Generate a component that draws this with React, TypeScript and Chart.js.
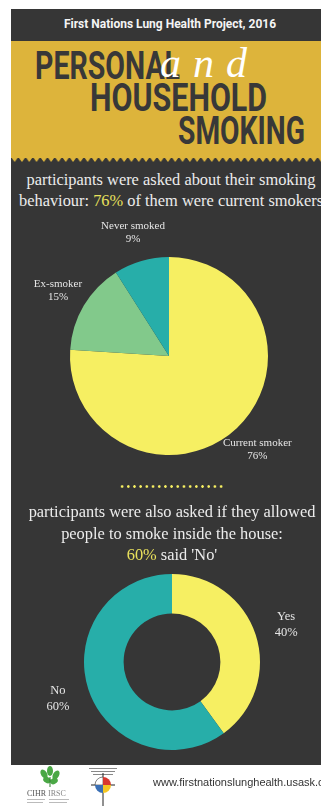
import React, { useEffect, useLayoutEffect, useRef } from "react";
import { Chart, registerables } from "chart.js";
Chart.register(...registerables);

// ---- data ----
const smokingCategories = ["Current smoker", "Ex-smoker", "Never smoked"];
const smokingValues = [76, 15, 9];
const householdCategories = ["Yes", "No"];
const householdValues = [40, 60];

// ---- styles ----
const DARK = "#363636";
const GOLD = "#DDB43B";
const YELLOW = "#F6EF62";
const TEAL = "#27AEA9";
const GREEN = "#82C98B";
const smokingColors = [YELLOW, GREEN, TEAL];
const householdColors = [YELLOW, TEAL];

const outerLabelPlugin = {
  id: "outerLabels",
  afterDatasetsDraw(chart: any, _args: any, opts: any) {
    const ctx = chart.ctx;
    const meta = chart.getDatasetMeta(0);
    const data = chart.data.datasets[0].data;
    const labels = chart.data.labels;
    ctx.save();
    ctx.fillStyle = opts.color;
    ctx.font = opts.font;
    ctx.textAlign = "center";
    ctx.textBaseline = "middle";
    meta.data.forEach((arc: any, i: number) => {
      const p = arc.getProps(["x", "y", "startAngle", "endAngle", "outerRadius"], true);
      const mid = (p.startAngle + p.endAngle) / 2;
      const d = p.outerRadius + opts.offset;
      const cx = p.x + Math.cos(mid) * d;
      const cy = p.y + Math.sin(mid) * d;
      ctx.fillText(String(labels[i]), cx, cy - opts.lineGap / 2);
      ctx.fillText(data[i] + "%", cx, cy + opts.lineGap / 2);
    });
    ctx.restore();
  },
};

function PieChart(props: {
  type: "pie" | "doughnut";
  labels: string[];
  values: number[];
  colors: string[];
  width: number;
  height: number;
  padding: { top: number; bottom: number; left: number; right: number };
  cutout?: string;
  labelFont: string;
  labelOffset: number;
  lineGap: number;
}) {
  const ref = useRef<HTMLCanvasElement>(null);
  useEffect(() => {
    if (!ref.current) return;
    const chart = new Chart(ref.current, {
      type: props.type,
      data: {
        labels: props.labels,
        datasets: [
          {
            data: props.values,
            backgroundColor: props.colors,
            borderWidth: 0,
            hoverOffset: 0,
          },
        ],
      },
      options: {
        responsive: false,
        animation: false,
        cutout: props.cutout ?? 0,
        layout: { padding: props.padding },
        plugins: {
          legend: { display: false },
          tooltip: { enabled: false },
          outerLabels: {
            color: "#e6e6e6",
            font: props.labelFont,
            offset: props.labelOffset,
            lineGap: props.lineGap,
          },
        } as any,
      } as any,
      plugins: [outerLabelPlugin],
    });
    return () => chart.destroy();
  }, []);
  return (
    <canvas
      ref={ref}
      width={props.width}
      height={props.height}
      style={{ width: props.width, height: props.height, display: "block" }}
    />
  );
}

function FitText(props: { text: string; width: number; style: React.CSSProperties }) {
  const ref = useRef<HTMLSpanElement>(null);
  useLayoutEffect(() => {
    const el = ref.current;
    if (!el) return;
    const w = el.offsetWidth;
    if (w > 0) el.style.transform = `scaleX(${props.width / w})`;
  }, []);
  return (
    <span
      ref={ref}
      style={{
        position: "absolute",
        display: "inline-block",
        whiteSpace: "nowrap",
        transformOrigin: "left top",
        ...props.style,
      }}
    >
      {props.text}
    </span>
  );
}

const titleFont: React.CSSProperties = {
  fontFamily: "Roboto, 'DejaVu Sans', sans-serif",
  fontWeight: 700,
  fontSize: 38,
  lineHeight: "38px",
  color: "#383838",
};

const serifText: React.CSSProperties = {
  position: "absolute",
  fontFamily: "'Liberation Serif', 'Times New Roman', serif",
  fontSize: 16.4,
  lineHeight: "21px",
  color: "#ececec",
  whiteSpace: "nowrap",
  transform: "translateX(-50%)",
};

export default function App() {
  return (
    <div
      style={{
        position: "relative",
        width: 321,
        height: 806,
        overflow: "hidden",
        background: "#ffffff",
      }}
    >
      <style>{`body{margin:0}`}</style>
      {/* dark panel */}
      <div style={{ position: "absolute", left: 11, top: 9, width: 320, height: 756, background: DARK }} />
      {/* header bar */}
      <div
        style={{
          position: "absolute",
          left: 170,
          top: 18,
          transform: "translateX(-50%)",
          whiteSpace: "nowrap",
          fontFamily: "Roboto, 'Open Sans', sans-serif",
          fontWeight: 700,
          fontSize: 12,
          lineHeight: "12px",
          color: "#f4f4f4",
        }}
      >
        First Nations Lung Health Project, 2016
      </div>
      {/* gold band */}
      <div style={{ position: "absolute", left: 11, top: 41, width: 320, height: 117, background: GOLD }} />
      <svg style={{ position: "absolute", left: 11, top: 157 }} width={320} height={6}>
        <defs>
          <pattern id="zig" width={7.3} height={6} patternUnits="userSpaceOnUse">
            <polygon points="0,0 7.3,0 3.65,5" fill={GOLD} />
          </pattern>
        </defs>
        <rect x={0} y={0} width={320} height={6} fill="url(#zig)" />
      </svg>
      <FitText text="PERSONAL" width={145} style={{ ...titleFont, left: 35, top: 47 }} />
      <FitText text="HOUSEHOLD" width={177} style={{ ...titleFont, left: 90, top: 79 }} />
      <FitText text="SMOKING" width={127} style={{ ...titleFont, left: 178, top: 112 }} />
      <div
        style={{
          position: "absolute",
          left: 160,
          top: 42,
          fontFamily: "'Liberation Serif', serif",
          fontStyle: "italic",
          fontSize: 42,
          lineHeight: "42px",
          letterSpacing: 12,
          color: "#ffffff",
          whiteSpace: "nowrap",
        }}
      >
        and
      </div>

      {/* first question */}
      <div style={{ ...serifText, left: 171, top: 169 }}>participants were asked about their smoking</div>
      <div style={{ ...serifText, left: 171, top: 190 }}>
        behaviour: <span style={{ color: "#E9E15C" }}>76%</span> of them were current smokers
      </div>

      <div style={{ position: "absolute", left: 11, top: 216 }}>
        <PieChart
          type="pie"
          labels={smokingCategories}
          values={smokingValues}
          colors={smokingColors}
          width={316}
          height={280}
          padding={{ top: 41, bottom: 41, left: 59, right: 59 }}
          labelFont="11px 'Liberation Serif', serif"
          labelOffset={30}
          lineGap={13}
        />
      </div>

      {/* dotted separator */}
      <div
        style={{
          position: "absolute",
          left: 119,
          top: 485,
          width: 106,
          height: 3,
          backgroundImage: `radial-gradient(circle, ${YELLOW} 1.1px, transparent 1.5px)`,
          backgroundSize: "6.2px 3px",
        }}
      />

      {/* second question */}
      <div style={{ ...serifText, left: 172, top: 501 }}>participants were also asked if they allowed</div>
      <div style={{ ...serifText, left: 172, top: 523 }}>people to smoke inside the house:</div>
      <div style={{ ...serifText, left: 172, top: 544 }}>
        <span style={{ color: "#E9E15C" }}>60%</span> said 'No'
      </div>

      <div style={{ position: "absolute", left: 11, top: 542 }}>
        <PieChart
          type="doughnut"
          labels={householdCategories}
          values={householdValues}
          colors={householdColors}
          width={322}
          height={240}
          padding={{ top: 32, bottom: 32, left: 73, right: 73 }}
          cutout="55%"
          labelFont="12.5px 'Liberation Serif', serif"
          labelOffset={32}
          lineGap={16}
        />
      </div>

      {/* footer */}
      <svg style={{ position: "absolute", left: 0, top: 765 }} width={140} height={41}>
        <g fill="#4aa845">
          <ellipse cx={44} cy={9} rx={3} ry={5} transform="rotate(-30 44 9)" />
          <ellipse cx={50} cy={6} rx={3} ry={5} />
          <ellipse cx={56} cy={10} rx={3} ry={5} transform="rotate(30 56 10)" />
          <ellipse cx={47} cy={15} rx={3} ry={4} transform="rotate(-60 47 15)" />
          <ellipse cx={54} cy={16} rx={3} ry={4} transform="rotate(60 54 16)" />
        </g>
        <line x1={50} y1={12} x2={50} y2={22} stroke="#2f7d2e" strokeWidth={1} />
        <text x={27} y={31} fontFamily="'Liberation Serif', serif" fontSize={8} fill="#555">CIHR</text>
        <text x={48} y={31} fontFamily="'Liberation Serif', serif" fontSize={8} fill="#888">IRSC</text>
        <rect x={27} y={34} width={18} height={1} fill="#bbb" />
        <rect x={49} y={34} width={20} height={1} fill="#bbb" />
        <rect x={27} y={37} width={16} height={1} fill="#bbb" />
        <rect x={49} y={37} width={18} height={1} fill="#bbb" />
        {/* second logo */}
        <rect x={89} y={3} width={28} height={1} fill="#888" />
        <rect x={91} y={6} width={24} height={1} fill="#888" />
        <rect x={93} y={9} width={20} height={1} fill="#888" />
        <line x1={103} y1={8} x2={103} y2={41} stroke="#222" strokeWidth={1} />
        <line x1={91} y1={20} x2={115} y2={20} stroke="#222" strokeWidth={1} />
        <path d="M103 20 L103 12 A8 8 0 0 0 95 20 Z" fill="#ffffff" stroke="#333" strokeWidth={0.6} />
        <path d="M103 20 L95 20 A8 8 0 0 0 103 28 Z" fill="#3a6fb5" />
        <path d="M103 20 L103 12 A8 8 0 0 1 111 20 Z" fill="#d8372f" />
        <path d="M103 20 L111 20 A8 8 0 0 1 103 28 Z" fill="#f3c623" />
      </svg>
      <div
        style={{
          position: "absolute",
          left: 153,
          top: 777,
          fontFamily: "'Liberation Sans', Arial, sans-serif",
          fontSize: 11,
          lineHeight: "11px",
          color: "#333",
          whiteSpace: "nowrap",
        }}
      >
        www.firstnationslunghealth.usask.ca
      </div>
    </div>
  );
}
